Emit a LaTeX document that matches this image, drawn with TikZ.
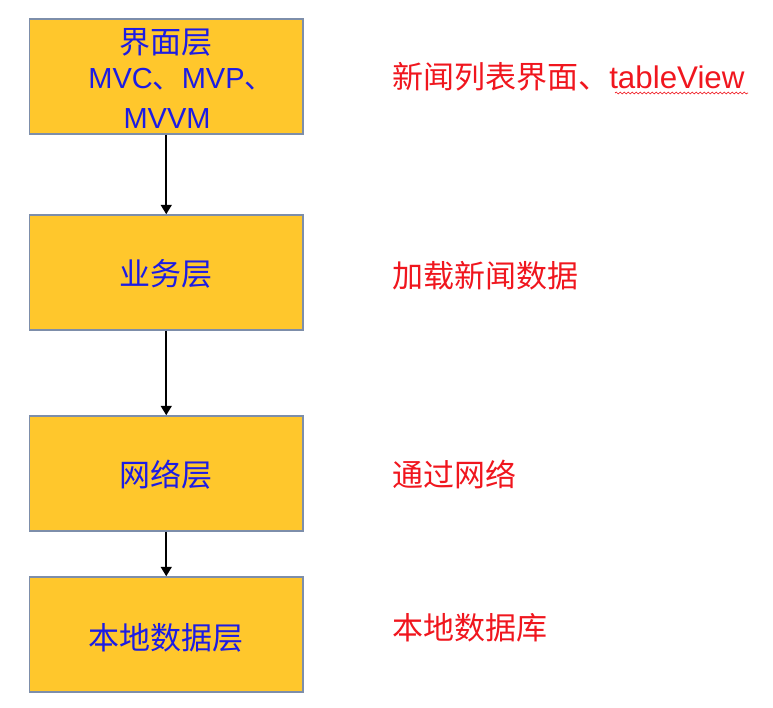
\documentclass[tikz,border=0pt]{standalone}
\usepackage{fontspec}
\setmainfont{Liberation Sans}
\newfontfamily\cjk{Noto Sans CJK SC}
\usetikzlibrary{arrows.meta,decorations.pathmorphing}
\definecolor{boxfill}{RGB}{255,199,44}
\definecolor{boxline}{RGB}{125,142,170}
\definecolor{lblue}{RGB}{28,28,228}
\definecolor{lred}{RGB}{240,22,30}
\tikzset{
  layer/.style={draw=boxline, line width=1.1pt, fill=boxfill, minimum width=205pt, minimum height=86.25pt, inner sep=0pt},
  boxlabel/.style={text=lblue, inner sep=0pt, anchor=base, font=\cjk\fontsize{23.25}{28}\selectfont},
  latinlabel/.style={text=lblue, inner sep=0pt, anchor=base, font=\fontsize{21.75}{26}\selectfont},
  note/.style={text=lred, inner sep=0pt, anchor=base west, font=\cjk\fontsize{23.25}{28}\selectfont},
  flow/.style={line width=1.6pt, -{Triangle[length=7pt,width=8pt]}},
}
\begin{document}
\begin{tikzpicture}[x=0.75pt,y=-0.75pt]
\useasboundingbox (0,0) rectangle (773,707);
\node[layer] (b1) at (166.25,76.5) {};
\node[layer] (b2) at (166.25,272.5) {};
\node[layer] (b3) at (166.25,473.5) {};
\node[layer] (b4) at (166.25,634.5) {};
\node[boxlabel] (t1) at (166,53) {界面层};
\node[latinlabel] (t1b) at (181,88) {MVC{\cjk 、}MVP{\cjk 、}};
\node[latinlabel] (t1c) at (167,128) {MVVM};
\node[boxlabel] (t2) at (166,285) {业务层};
\node[boxlabel] (t3) at (166,486) {网络层};
\node[boxlabel] (t4) at (166,649) {本地数据层};
\node[note] (n1) at (392,88) {新闻列表界面、\fontspec{Liberation Sans}\fontsize{23.5}{28}\selectfont tableView};
\coordinate (s1) at (615,93);
\coordinate (s2) at (748,93);
\draw[lred, line width=0.5pt, decorate, decoration={snake, amplitude=0.7pt, segment length=3pt}] (s1) -- (s2);
\node[note] (n2) at (392,287) {加载新闻数据};
\node[note] (n3) at (392,486) {通过网络};
\node[note] (n4) at (392,639) {本地数据库};
\draw[flow] (b1.south) -- (b2.north);
\draw[flow] (b2.south) -- (b3.north);
\draw[flow] (b3.south) -- (b4.north);
\end{tikzpicture}
\end{document}
